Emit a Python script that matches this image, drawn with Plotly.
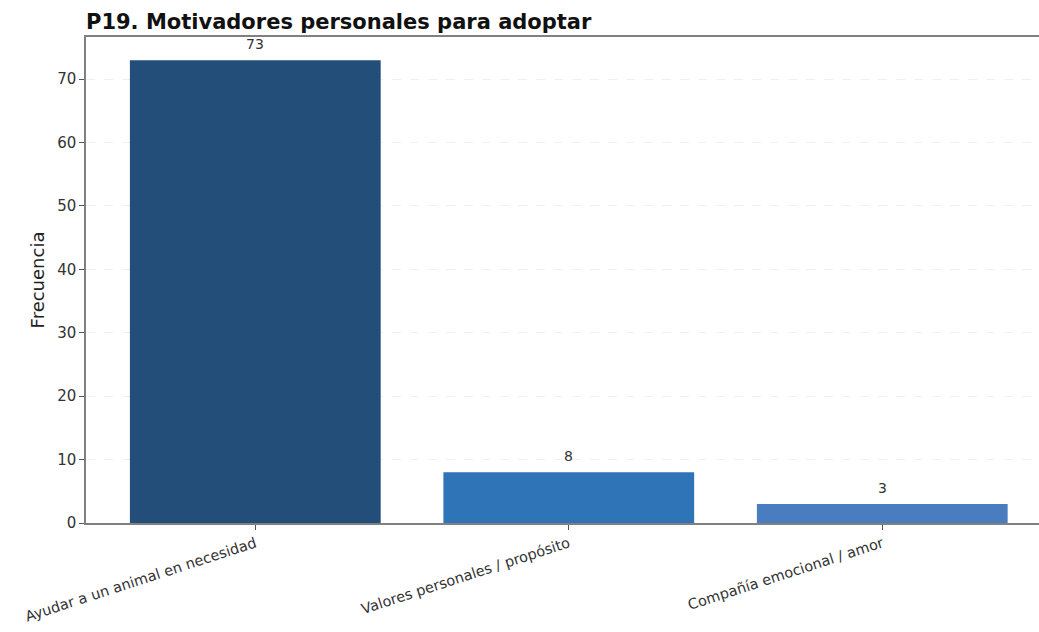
import plotly.graph_objects as go

# Survey question P19: personal motivations for adopting
categorias = [
    "Ayudar a un animal en necesidad",
    "Valores personales / propósito",
    "Compañía emocional / amor",
]
frecuencias = [73, 8, 3]
colores = ["#224e79", "#2e74b7", "#4a7dbf"]
y_ticks = [0, 10, 20, 30, 40, 50, 60, 70]

FONT = "DejaVu Sans"
W, H = 1039, 632

x_pos = list(range(len(categorias)))

fig = go.Figure()
fig.add_trace(
    go.Bar(
        x=x_pos,
        y=frecuencias,
        width=0.8,
        marker=dict(color=colores, line=dict(width=0)),
        hoverinfo="skip",
    )
)

# value labels above each bar
for xi, v in zip(x_pos, frecuencias):
    fig.add_annotation(
        x=xi, y=v, text=str(v), showarrow=False,
        yanchor="bottom", yshift=6,
        font=dict(family=FONT, size=14, color="#333333"),
    )

ymax = max(frecuencias) * 1.05

fig.update_layout(
    width=W,
    height=H,
    margin=dict(l=86, r=0, t=37, b=109),
    paper_bgcolor="white",
    plot_bgcolor="white",
    showlegend=False,
    font=dict(family=FONT, size=15, color="#333333"),
    title=dict(
        text="<b>P19. Motivadores personales para adoptar</b>",
        font=dict(family=FONT, size=21, color="#111111"),
        x=86 / W, xanchor="left", xref="container",
        y=1 - 22 / H, yanchor="middle", yref="container",
    ),
)

fig.update_xaxes(
    range=[-0.54, 2.5],
    automargin=False,
    tickmode="array",
    tickvals=x_pos,
    ticktext=categorias,
    tickangle=-18,
    ticks="outside",
    ticklen=5,
    tickcolor="#555555",
    tickfont=dict(family=FONT, size=14.5, color="#333333"),
    showline=True,
    linecolor="#808080",
    linewidth=1.5,
    mirror=True,
    showgrid=False,
    zeroline=False,
)

fig.update_yaxes(
    range=[0, ymax],
    automargin=False,
    tickmode="array",
    tickvals=y_ticks,
    ticks="outside",
    ticklen=5,
    tickcolor="#555555",
    tickfont=dict(family=FONT, size=15, color="#333333"),
    title=dict(text="Frecuencia", font=dict(family=FONT, size=18, color="#222222"), standoff=8),
    showline=True,
    linecolor="#808080",
    linewidth=1.5,
    showgrid=True,
    gridcolor="rgba(0,0,0,0.06)",
    griddash="dash",
    zeroline=False,
)

fig.write_html("out.html")
